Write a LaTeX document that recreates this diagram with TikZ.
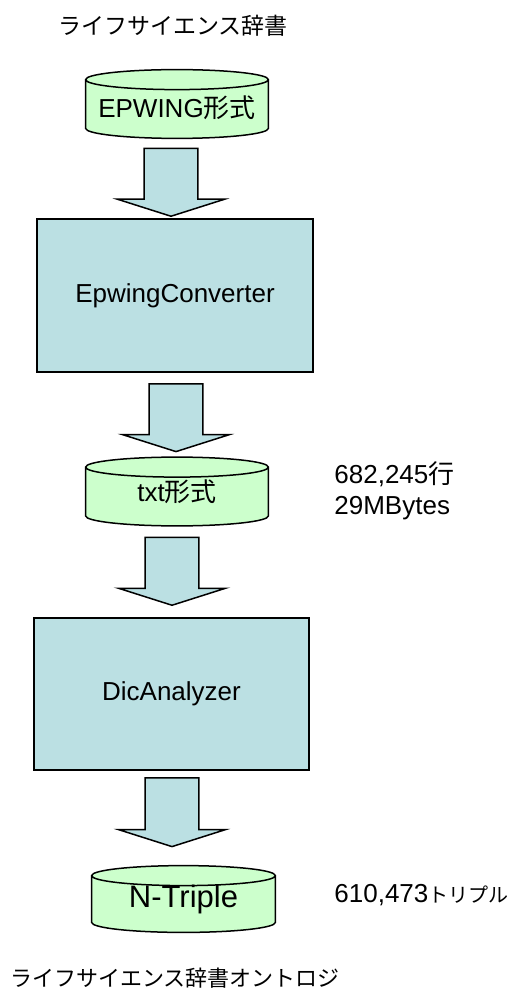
\documentclass[tikz,border=0pt]{standalone}
\usepackage{fontspec}
\setmainfont{Liberation Sans}
\newfontfamily\cjk{Noto Sans CJK JP}
\usetikzlibrary{calc,backgrounds,positioning}

\definecolor{procblue}{RGB}{187,224,227}
\definecolor{datagreen}{RGB}{204,255,204}

\tikzset{
  every node/.style={font=\fontsize{13}{15.25}\selectfont},
  proc/.style={draw,line width=0.75pt,fill=procblue,minimum width=138pt,minimum height=76.5pt,inner sep=0pt},
  drumnode/.style={minimum width=91pt,minimum height=34pt,inner sep=0pt},
  drumline/.style={draw,line width=0.75pt,fill=datagreen},
  fatarrow/.style={draw,line width=0.75pt,fill=procblue,line join=miter},
  info/.style={anchor=west,inner sep=0pt,align=left}
}

% data store drawn round a node
\newcommand{\drum}[1]{%
  \draw[drumline] let \p1=(#1.north west), \p2=(#1.south east), \n1={(\x2-\x1)/2} in
    (\x1,\y1-5) -- (\x1,\y2+5) arc[start angle=180,end angle=360,x radius=\n1,y radius=5pt]
    -- (\x2,\y1-5) arc[start angle=0,end angle=180,x radius=\n1,y radius=5pt] -- cycle
    (\x1,\y1-5) arc[start angle=180,end angle=360,x radius=\n1,y radius=5pt];}

% block arrow: x, source, gap, target, gap
\newcommand{\fatarrow}[5]{%
  \draw[fatarrow] let \p1=(#2.south), \p2=(#4.north) in
    (#1-13.4,\y1-#3) -- (#1-13.4,\y2+#5+8.5) -- (#1-26.75,\y2+#5+8.5) -- (#1,\y2+#5)
    -- (#1+26.75,\y2+#5+8.5) -- (#1+13.4,\y2+#5+8.5) -- (#1+13.4,\y1-#3) -- cycle;}

\begin{document}
\begin{tikzpicture}[x=1pt,y=1pt]
  \useasboundingbox (0,0) rectangle (258,-497);

  \node[anchor=west,inner sep=0pt,font=\cjk\fontsize{11.5}{14}\selectfont] (ttl) at (29,-13) {ライフサイエンス辞書};

  \node[drumnode,text height=14pt,text depth=0pt] (epw) at (88.5,-52) {EPWING{\cjk 形式}};
  \node[proc] (conv) at (87.5,-147.75) {EpwingConverter};
  \node[drumnode] (txt) at (88.5,-245.75) {txt{\cjk 形式}};
  \node[info] (txtinfo) at (167,-245.5) {682,245{\cjk 行}\\29MBytes};
  \node[proc,minimum width=137.5pt,minimum height=76pt] (ana) at (85.75,-347) {DicAnalyzer};
  \node[drumnode,minimum width=91.5pt,minimum height=33pt,font=\fontsize{15.5}{18}\selectfont] (nt) at (91.75,-449.5) {N-Triple};
  \node[info] (ntinfo) at (167,-447.5) {610,473{\cjk\fontsize{10}{12}\selectfont トリプル}};

  \node[anchor=west,inner sep=0pt,font=\cjk\fontsize{11}{13}\selectfont] (onto) at (5,-489) {ライフサイエンス辞書オントロジ};

  \begin{pgfonlayer}{background}
    \drum{epw}
    \drum{txt}
    \drum{nt}
  \end{pgfonlayer}

  \fatarrow{85.5}{epw}{5}{conv}{1}
  \fatarrow{88}{conv}{5.5}{txt}{2.75}
  \fatarrow{86}{txt}{5.75}{ana}{6}
  \fatarrow{86}{ana}{3.5}{nt}{9.5}
\end{tikzpicture}
\end{document}
